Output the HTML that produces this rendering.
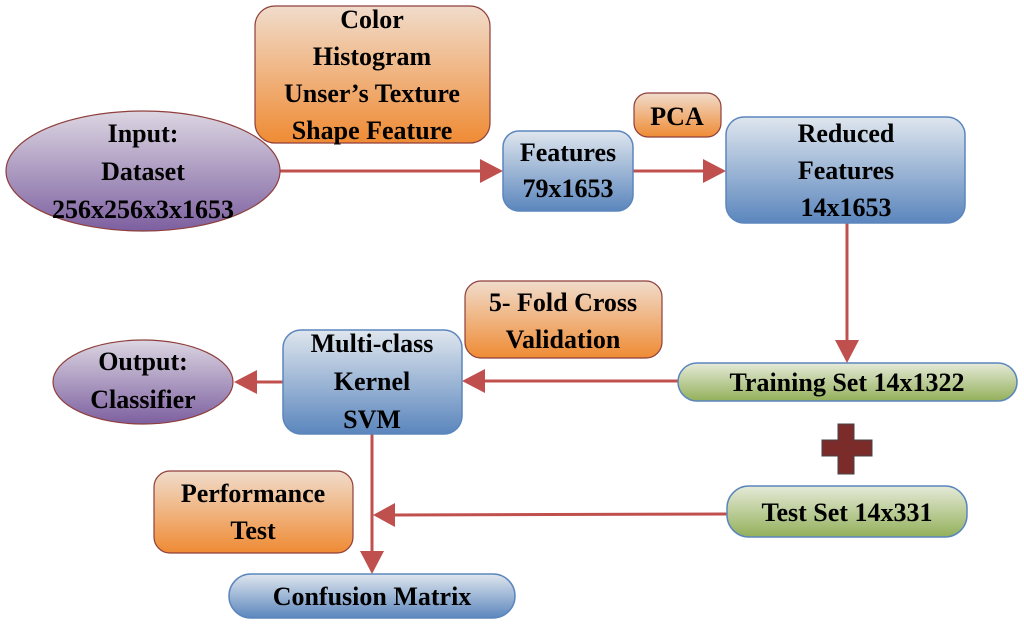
<!DOCTYPE html>
<html><head><meta charset="utf-8"><style>body{margin:0;background:#fff}svg{display:block}text{font-family:"Liberation Serif",serif;font-weight:bold;font-size:26px;fill:#000;text-anchor:middle}</style></head><body>
<svg width="1024" height="626" viewBox="0 0 1024 626">
<defs>
<linearGradient id="pu" x1="0" y1="0" x2="0" y2="1"><stop offset="0" stop-color="#dcd6e2"/><stop offset="1" stop-color="#7d60a0"/></linearGradient>
<linearGradient id="or" x1="0" y1="0" x2="0" y2="1"><stop offset="0" stop-color="#f0dccb"/><stop offset="1" stop-color="#ef8b34"/></linearGradient>
<linearGradient id="bl" x1="0" y1="0" x2="0" y2="1"><stop offset="0" stop-color="#dfe6ee"/><stop offset="1" stop-color="#5b86bd"/></linearGradient>
<linearGradient id="gr" x1="0" y1="0" x2="0" y2="1"><stop offset="0" stop-color="#e5ead8"/><stop offset="1" stop-color="#93b05a"/></linearGradient>
</defs>
<g stroke="#c0504d" stroke-width="3" fill="none">
<line x1="280" y1="171" x2="480" y2="171"/>
<line x1="633" y1="171" x2="703" y2="171"/>
<line x1="847" y1="223" x2="847" y2="340"/>
<line x1="678" y1="381" x2="485" y2="381"/>
<line x1="284" y1="382" x2="257" y2="382"/>
<line x1="372" y1="434" x2="372" y2="552"/>
<line x1="727" y1="514" x2="395" y2="515"/>
</g>
<g fill="#c0504d">
<polygon points="503,171 480,159 480,183"/>
<polygon points="726,171 703,159 703,183"/>
<polygon points="847,363 835,340 859,340"/>
<polygon points="462,381 485,369 485,393"/>
<polygon points="234,382 257,370 257,394"/>
<polygon points="372,574 360,551 384,551"/>
<polygon points="373,515 395,503 395,527"/>
</g>
<g stroke="#8f3f3c" stroke-width="1.2">
<ellipse cx="143" cy="171" rx="137" ry="60" fill="url(#pu)"/>
<ellipse cx="143" cy="382" rx="90" ry="42" fill="url(#pu)"/>
<rect x="255" y="6" width="235" height="137" rx="20" fill="url(#or)"/>
<rect x="634" y="93" width="87" height="44" rx="14" fill="url(#or)"/>
<rect x="465" y="281" width="197" height="77" rx="16" fill="url(#or)"/>
<rect x="154" y="471" width="199" height="82" rx="16" fill="url(#or)"/>
</g>
<g stroke="#5b86bd" stroke-width="1.5">
<rect x="503" y="131" width="130" height="80" rx="16" fill="url(#bl)"/>
<rect x="726" y="117" width="239" height="106" rx="18" fill="url(#bl)"/>
<rect x="283" y="330" width="179" height="104" rx="18" fill="url(#bl)"/>
<rect x="229" y="574" width="286" height="44" rx="22" fill="url(#bl)"/>
<rect x="678" y="363" width="339" height="38" rx="19" fill="url(#gr)"/>
<rect x="727" y="486" width="240" height="51" rx="22" fill="url(#gr)"/>
</g>
<path d="M838,424h16v16h18v16h-18v18h-16v-18h-16v-16h16z" fill="#7b2c2a" stroke="#444" stroke-width="1"/>
<text x="143" y="142">Input:</text><text x="143" y="180">Dataset</text><text x="143" y="218">256x256x3x1653</text>
<text x="372" y="28">Color</text><text x="372" y="65">Histogram</text><text x="372" y="102">Unser’s Texture</text><text x="372" y="139">Shape Feature</text>
<text x="568" y="161">Features</text><text x="568" y="197">79x1653</text>
<text x="677" y="125">PCA</text>
<text x="846" y="142">Reduced</text><text x="846" y="179">Features</text><text x="846" y="216">14x1653</text>
<text x="563" y="311">5- Fold Cross</text><text x="563" y="348">Validation</text>
<text x="372" y="352">Multi-class</text><text x="372" y="390">Kernel</text><text x="372" y="428">SVM</text>
<text x="143" y="370">Output:</text><text x="143" y="408">Classifier</text>
<text x="847" y="391">Training Set 14x1322</text>
<text x="847" y="521">Test Set 14x331</text>
<text x="253" y="502">Performance</text><text x="253" y="539">Test</text>
<text x="372" y="605">Confusion Matrix</text>
</svg>
</body></html>
